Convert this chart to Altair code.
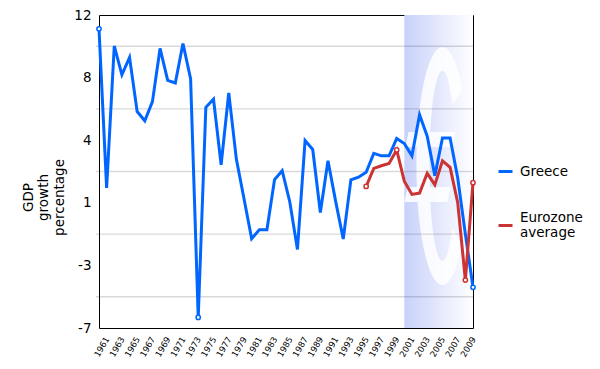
import altair as alt
import pandas as pd

# ---- data ----
years = list(range(1960, 2010))
greece = [11.16, 1.51, 10.12, 8.37, 9.43, 6.14, 5.58, 6.74, 9.97, 8.03,
          7.87, 10.27, 8.13, -6.36, 6.40, 6.89, 2.91, 7.27, 3.24, 0.85,
          -1.58, -1.04, -1.04, 2.01, 2.55, 0.65, -2.23, 4.38, 3.84, 0.01,
          3.15, 0.70, -1.60, 1.99, 2.15, 2.45, 3.60, 3.45, 3.45, 4.50,
          4.20, 3.45, 5.94, 4.64, 2.25, 4.54, 4.54, 2.10, -1.30, -4.53]
euro_years = list(range(1995, 2010))
eurozone = [1.59, 2.69, 2.85, 2.99, 3.81, 1.91, 1.11, 1.19, 2.39, 1.69,
            3.15, 2.75, 0.60, -4.09, 1.82]
series_names = ["Greece", "Eurozone average"]
series_colors = ["#0066ff", "#cc3333"]
y_tick_values = [12, 8.2, 4.4, 0.6, -3.2, -7]
grid_values = [10.1, 6.3, 2.5, -1.3, -5.1]
x_tick_values = list(range(1961, 2010, 2))
euro_start = [2000]
euro_end = [2009]
euro_sign_year = [2005]

W, H = 374, 313

x_scale = alt.Scale(domain=[1960, 2009], nice=False, zero=False)
y_scale = alt.Scale(domain=[-7, 12], nice=False, zero=False)

x_axis = alt.Axis(values=x_tick_values, format="d", labelAngle=-60,
                  labelFontSize=8.5, ticks=False, domain=False, grid=False,
                  labelPadding=9, labelAlign="right", labelBaseline="middle",
                  title=None, labelFlush=False, labelOverlap=False,
                  labelColor="black")
y_axis = alt.Axis(values=y_tick_values, labelExpr="'' + round(datum.value)",
                  ticks=False, domain=False, grid=False, labelPadding=8,
                  labelFontSize=13.5, labelColor="black", labelFlush=False,
                  labelOverlap=False,
                  title=["GDP", "growth", "percentage"], titleFontSize=13.5,
                  titleFontWeight="normal", titleColor="black",
                  titleX=-71, titleY=182, titleAngle=270,
                  titleAlign="center", titleBaseline="middle",
                  titleLineHeight=15.5)

gradient = alt.LinearGradient(
    gradient="linear",
    stops=[alt.GradientStop(color="#c8d1fa", offset=0),
           alt.GradientStop(color="#ffffff", offset=1)],
    x1=0, x2=1, y1=0, y2=0,
)

band = alt.Chart(pd.DataFrame({"start": euro_start, "end": euro_end})).mark_rect(
    fill=gradient
).encode(
    x=alt.X("start:Q", scale=x_scale, axis=x_axis),
    x2="end:Q",
    y=alt.value(0),
    y2=alt.value(H),
)

EURO_PATH = ("M 20 -76 A 26 119 0 1 0 19.4 79 L 9.8 62 A 13 95 0 1 1 10 -61 Z "
             "M -34 -34 L -37 -19 L 10 -19 L 13 -34 Z "
             "M -35 21 L -38 36 L 5 36 L 8 21 Z")

euro_sign = alt.Chart(pd.DataFrame({"year": euro_sign_year})).mark_point(
    shape=EURO_PATH, size=4, filled=True, color="white", opacity=0.85, strokeWidth=0
).encode(
    x=alt.X("year:Q", scale=x_scale, axis=x_axis),
    y=alt.value(151),
)

grid = alt.Chart(pd.DataFrame({"value": grid_values})).mark_rule(
    color="black", opacity=0.15, strokeWidth=1.4
).encode(
    y=alt.Y("value:Q", scale=y_scale, axis=y_axis),
    x=alt.value(-3),
    x2=alt.value(W),
)


def series_layers(name, color, xs, ys, legend_y, baseline, label_expr):
    d = pd.DataFrame({"year": xs, "value": ys, "series": name})
    flagged = sorted({d.index[0], d.index[-1], d["value"].idxmax(), d["value"].idxmin()})
    scale = alt.Scale(domain=[name], range=[color])
    legend = alt.Legend(
        title=None, orient="none", legendX=398, legendY=legend_y,
        symbolType="stroke", symbolStrokeWidth=3, symbolSize=196,
        labelFontSize=13.5, labelOffset=6, labelColor="black", labelLimit=0,
        labelBaseline=baseline, labelExpr=label_expr,
    )
    line = alt.Chart(d).mark_line(strokeWidth=3).encode(
        x=alt.X("year:Q", scale=x_scale, axis=x_axis),
        y=alt.Y("value:Q", scale=y_scale, axis=y_axis),
        color=alt.Color("series:N", scale=scale, legend=legend),
    )
    pts = alt.Chart(d.loc[flagged]).mark_point(
        filled=False, fill="white", size=18, strokeWidth=1.5, opacity=1,
        color=color,
    ).encode(
        x=alt.X("year:Q", scale=x_scale, axis=x_axis),
        y=alt.Y("value:Q", scale=y_scale, axis=y_axis),
    )
    return line, pts


g_line, g_pts = series_layers(series_names[0], series_colors[0], years, greece,
                              148, "middle", "datum.label")
e_line, e_pts = series_layers(series_names[1], series_colors[1], euro_years, eurozone,
                              202, "line-bottom", "['Eurozone', 'average']")

chart = alt.layer(band, euro_sign, grid, g_line, e_line, g_pts, e_pts).resolve_scale(
    color="independent"
).properties(
    width=W, height=H,
    padding={"left": 91, "top": 7, "right": 115, "bottom": 33},
    autosize=alt.AutoSizeParams(type="none"),
).configure(font="DejaVu Sans").configure_view(stroke="black", strokeWidth=1)

chart.save("out.html", embed_options={"renderer": "svg", "actions": False})
